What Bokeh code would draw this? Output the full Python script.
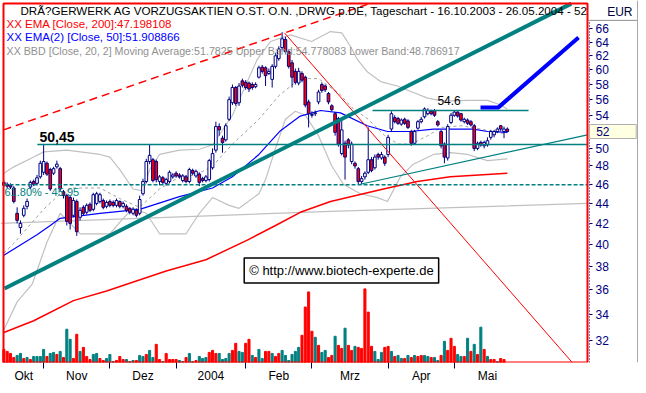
import numpy as np
from bokeh.plotting import figure
from bokeh.models import (Range1d, LinearScale, FixedTicker, Label, ColumnDataSource,
                          PrintfTickFormatter, LogAxis, BoxAnnotation, Span)
from bokeh.embed import file_html
from bokeh.resources import INLINE

# ---------------- data ----------------
opens = [46.2,46.0,45.9,45.6,43.0,41.6,42.8,43.7,45.7,46.3,46.1,46.8,47.3,48.3,47.6,47.2,47.9,47.7,45.2,44.8,
         44.6,42.8,44.2,42.6,43.6,43.1,43.9,43.4,44.0,44.2,44.3,43.7,44.2,44.1,43.8,44.2,43.7,43.7,43.5,43.0,
         43.3,43.0,45.0,46.3,48.5,48.7,48.5,46.3,46.7,46.1,46.3,46.8,47.2,47.0,46.4,46.8,46.3,47.5,46.9,47.1,
         46.6,46.4,46.5,47.8,49.8,52.6,51.2,51.0,53.5,55.6,57.6,55.6,58.5,58.3,58.2,58.0,57.7,59.0,60.4,60.3,
         59.5,58.7,60.5,61.6,63.2,64.4,62.6,61.0,59.8,58.2,59.5,59.0,55.7,54.0,54.2,55.7,58.0,57.8,56.8,55.2,
         54.2,53.6,49.4,50.6,51.0,48.5,48.3,47.7,46.3,46.8,47.3,48.7,47.8,49.3,48.9,49.0,49.3,52.3,53.7,53.6,
         52.9,53.5,53.3,52.0,50.6,52.4,53.2,53.8,54.2,54.5,54.6,53.2,52.0,50.5,48.9,53.1,54.0,54.4,54.2,53.2,
         53.4,53.2,52.7,50.0,50.7,50.3,50.4,51.3,51.6,52.0,52.7,52.0,52.3]
closes = [45.9,45.8,45.7,44.2,42.3,42.0,43.5,44.2,46.2,46.0,46.7,48.3,48.5,47.1,45.5,47.7,48.2,45.5,44.8,42.2,
          42.0,44.3,41.2,43.3,43.0,43.8,43.3,44.9,45.0,44.9,43.6,44.1,43.8,43.8,44.3,43.7,44.0,43.3,43.1,43.4,
          42.8,44.4,46.3,48.5,49.2,46.4,46.5,46.8,46.2,46.5,47.3,47.0,46.9,46.8,46.9,46.3,47.6,47.2,47.4,46.2,
          46.4,46.8,48.6,49.4,52.6,52.2,50.7,52.7,56.0,57.6,55.5,57.8,57.9,57.6,57.4,57.6,58.0,60.3,59.8,59.2,
          59.8,60.5,62.0,63.0,64.5,62.6,60.5,59.0,58.3,59.8,58.6,55.3,54.2,54.1,54.3,57.0,57.2,57.3,55.7,54.7,
          51.9,50.5,52.2,49.0,50.4,50.5,48.0,46.3,46.6,47.2,48.7,47.5,49.0,49.0,49.3,48.3,51.3,54.2,53.2,53.0,
          53.4,53.0,52.5,50.6,52.0,53.2,53.5,54.8,54.6,54.2,54.0,52.8,50.3,49.0,52.6,54.0,54.4,53.9,53.4,53.5,
          53.0,52.8,50.0,50.6,50.4,50.7,50.9,52.0,52.0,52.3,52.3,52.3,52.0]
highs = [46.4,46.2,46.1,45.8,43.6,42.3,43.8,44.5,46.4,46.5,47.0,48.6,50.45,48.5,47.8,47.9,48.6,47.9,45.4,45.0,
         44.8,44.6,44.4,43.6,43.8,44.0,44.1,45.1,45.2,45.1,44.5,44.3,44.4,44.3,44.5,44.3,44.2,43.9,43.6,43.6,
         43.5,44.8,46.6,48.8,50.45,48.9,48.7,47.0,46.9,46.7,47.5,47.2,47.4,47.2,47.1,47.0,47.8,47.7,47.6,47.3,
         46.8,47.0,48.8,50.0,53.2,53.0,51.5,53.0,56.4,58.0,57.8,58.2,58.8,58.6,58.4,58.3,58.3,60.6,60.7,60.5,
         60.2,60.8,62.4,63.4,65.5,64.8,62.9,61.4,60.2,60.3,59.8,59.2,56.0,54.5,54.6,57.3,58.3,58.0,57.0,55.4,
         54.4,53.8,53.6,50.9,51.2,50.8,48.5,47.9,46.9,47.4,52.5,49.0,49.3,49.5,49.6,49.2,51.6,54.5,54.0,53.8,
         53.6,53.7,53.5,52.2,52.2,53.4,53.8,55.0,54.9,54.7,54.8,53.4,52.2,50.7,52.9,54.3,54.6,54.5,54.3,53.7,
         53.6,53.4,52.9,50.8,50.9,50.9,51.3,52.2,52.2,52.5,52.8,52.6,52.5]
lows = [45.7,45.6,45.5,44.0,42.0,41.0,42.6,43.4,45.5,45.8,45.9,46.6,47.0,46.9,45.3,47.0,47.7,45.3,44.5,41.8,
        41.4,42.6,40.8,42.3,42.8,42.9,43.1,43.2,43.8,44.0,43.4,43.5,43.6,43.6,43.6,43.5,43.5,43.1,42.9,42.8,
        42.6,42.8,44.8,46.1,48.2,46.2,46.2,45.9,46.0,45.9,46.1,46.6,46.7,46.6,46.2,46.1,46.1,47.0,46.7,45.8,
        46.2,46.2,46.3,47.6,49.5,51.5,49.5,50.8,53.3,55.3,55.2,55.2,57.6,57.3,57.0,57.3,57.5,58.8,59.5,57.8,
        59.3,57.6,60.2,61.3,62.8,62.3,60.2,57.6,58.0,57.9,58.3,55.0,52.5,53.7,53.9,55.4,56.9,57.0,55.4,54.5,
        51.5,50.2,49.2,46.5,50.0,48.2,47.7,46.0,46.0,46.5,47.1,47.3,47.6,48.7,48.7,48.0,49.0,52.0,53.0,52.8,
        52.7,52.8,52.3,50.3,50.4,52.2,53.0,53.6,54.0,54.0,53.8,52.6,50.0,48.3,48.6,52.9,53.8,53.7,53.2,53.0,
        52.8,52.6,49.7,49.8,50.2,50.0,50.2,51.0,51.3,51.8,52.0,51.2,51.9]
volume = [13,11,9,5,7,9,4,5,3,6,6,6,13,6,9,10,8,11,5,33,23,4,28,11,15,6,3,8,9,4,2,4,8,1,2,6,3,3,1,2,
          2,7,6,8,12,5,18,3,1,9,3,3,3,2,1,5,9,1,2,6,4,5,10,12,9,9,3,4,9,12,19,11,10,19,23,7,5,13,4,11,
          11,9,6,9,12,7,2,8,11,15,27,55,70,31,25,17,10,12,5,7,26,17,14,34,17,12,16,15,14,73,50,16,11,3,10,15,16,11,6,7,
          4,4,7,5,7,6,7,7,6,5,5,2,7,21,12,24,16,8,6,6,24,11,18,8,35,13,6,3,3,1,4,3,3]
vol_dir = list("ddddu udud uuuud uududuudduddduuddu uudddu uudu udu uddud dddu uduu duuudd duuuuddu uddudu uddudd uuuuuudd ddudu uddudd uddu ddddduuu dduduu dududdu uduudu ddduu dudud ududdudd".replace(" ", ""))

ema200_i = [0, 9, 21, 31, 49, 61, 73.5, 82, 89.5, 98.6, 114.6, 124.8, 134.8, 152]
ema200_v = [32.6, 33.5, 35.1, 35.9, 37.6, 38.6, 40.4, 41.8, 43.1, 44.2, 45.5, 46.3, 46.8, 47.2]
ema50_i = [0, 10, 14, 17, 29, 41, 53, 63, 69, 77, 83.5, 89.5, 95.6, 101.6, 109.7, 115.8, 122.7, 129.7, 141.7, 146, 152]
ema50_v = [39.0, 40.9, 41.8, 42.5, 43.0, 43.4, 44.7, 45.6, 46.8, 49.3, 52.1, 53.9, 54.6, 54.3, 52.7, 52.0, 52.0, 52.3, 52.3, 52.0, 51.9]
bb_up_i = [0, 3, 9, 12, 19, 29, 32, 35, 39, 42, 44, 47, 53, 59, 63, 69, 73.5, 76.5, 80.5, 86.5, 92.9, 98.6, 102,
           104.6, 106.7, 109.8, 113.7, 118.8, 122.7, 127.9, 132.7, 140, 146, 150, 152]
bb_up_v = [47.2, 47.9, 49.0, 49.6, 49.8, 49.3, 49.0, 47.6, 45.5, 45.3, 47.6, 49.3, 49.8, 49.9, 50.4, 54.0, 58.4, 61.5,
           64.1, 65.1, 64.1, 65.6, 65.4, 63.4, 61.5, 59.7, 58.4, 57.8, 57.1, 56.2, 55.8, 55.9, 55.9, 55.3, 54.8]
bb_mid_i = [0, 3, 8, 12, 17, 21, 29, 35, 41, 47, 53, 58, 63, 69, 77, 83, 88, 92, 95, 98, 101, 105, 110, 115, 119,
            123, 128, 132, 138, 144, 150, 152]
bb_mid_v = [39.2, 40.1, 41.9, 43.4, 45.0, 45.6, 45.6, 44.5, 43.6, 45.5, 46.8, 47.0, 48.0, 50.5, 53.5, 56.5, 58.3,
            58.8, 58.8, 57.8, 56.9, 55.0, 53.5, 51.5, 50.5, 50.5, 51.5, 52.5, 52.7, 52.3, 51.8, 51.8]
bb_lo_i = [0, 4, 8.6, 13, 17, 20, 23, 32, 36, 39, 43, 47, 55, 59, 63, 68, 71, 77, 79, 82, 85, 88, 91, 95, 99,
           102.5, 107.6, 112.8, 115.8, 119.7, 123.6, 129.7, 134.8, 140, 146, 152]
bb_lo_v = [32.8, 35.0, 36.5, 40.2, 43.0, 42.0, 41.0, 41.0, 42.5, 43.5, 43.0, 41.0, 41.0, 43.0, 44.6, 43.8, 43.5,
           45.0, 46.5, 50.0, 53.5, 54.5, 54.0, 51.5, 48.0, 46.0, 45.0, 44.6, 44.2, 46.8, 48.2, 49.3, 49.5, 49.3,
           48.6, 48.8]
grey_line_i = [-1, 98.6, 176.2]
grey_line_v = [42.0, 43.2, 44.0]

# drawn trend lines (index, price)
chan_i, chan_v = [-0.1, 110.4], [52.2, 70.0]          # red dashed channel
trend_i, trend_v = [0.2, 171.3], [36.1, 70.0]         # thick teal trend line
fall_i, fall_v = [84.7, 171.6], [65.4, 30.4]          # thin red falling line
supp_i, supp_v = [107.6, 176.2], [46.0, 51.6]         # thin teal support
res1_i, res1_v = [10.1, 176.2], [50.45, 50.45]        # 50,45 line
res2_i, res2_v = [111.3, 158.4], [54.6, 54.6]         # 54.6 line
fib_i, fib_v = [-0.1, 176.2], [45.95, 45.95]          # 61.80% line
arrow_i, arrow_v = [143.9, 149.3, 173.5], [55.0, 55.0, 64.7]

y_ticks = list(range(32, 67, 2))
last_price = 52
month_starts = [12, 32, 52, 73, 93, 116, 136]
month_label_pos = [6, 22, 42, 62.5, 83, 104.5, 126, 146]
month_names = ["Okt", "Nov", "Dez", "2004", "Feb", "Mrz", "Apr", "Mai"]

# ---------------- geometry ----------------
W, H = 638, 385
X0, X1 = -0.115, 176.2          # chart area (inside the red frame)
Y0, Y1 = 30.4, 70.02
CX0, CX1, CY0, CY1 = 3, 587, 3, 364   # canvas pixels of the chart area
SX = (X1 - X0) / (CX1 - CX0)
LY = np.log(Y1 / Y0) / (CY1 - CY0)
XR0, XR1 = X0 - CX0 * SX, X1 + (W - CX1) * SX
YR1 = float(Y1 * np.exp(CY0 * LY))

def ix(xpx):          # reference-picture pixel -> bar index
    return (xpx - 3.38) / 3.313

def py(ypx):          # reference-picture pixel -> price
    return 66.0 * np.exp(-(ypx - 29.0) / 440.0)

def dx(xp):           # canvas pixel -> bar index
    return X0 + (xp - CX0) * SX

def dy(yp):           # canvas pixel -> price
    return float(np.exp(np.log(Y1) - (yp - CY0) * LY))

FONT = "Liberation Sans"
TEAL = "#008080"
NAVY = "#000080"

p = figure(width=W, height=H, output_backend="svg", toolbar_location=None,
           x_range=Range1d(XR0, XR1), y_range=Range1d(Y0, YR1),
           y_axis_type="log", y_axis_location=None,
           min_border_left=0, min_border_top=0, min_border_right=0, min_border_bottom=H - CY1,
           background_fill_color="white", border_fill_color="white")
p.extra_y_ranges = {"vol": Range1d(0, 359)}
p.extra_y_scales = {"vol": LinearScale()}
p.xgrid.grid_line_color = None
p.ygrid.grid_line_color = None
p.outline_line_color = None

# price axis, drawn just right of the chart frame
ya = LogAxis(fixed_location=dx(589), bounds=(Y0, dy(22)))
ya.ticker = FixedTicker(ticks=y_ticks, minor_ticks=[])
ya.formatter = PrintfTickFormatter(format="%d")
ya.major_label_overrides = {float(last_price): ""}
ya.axis_line_color = NAVY
ya.axis_line_dash = "1 2"
ya.major_tick_out = 3
ya.major_tick_in = 0
ya.major_tick_line_color = NAVY
ya.minor_tick_line_color = None
ya.major_label_standoff = 3
ya.major_label_text_color = NAVY
ya.major_label_text_font = FONT
ya.major_label_text_font_size = "12px"
p.add_layout(ya, "right")

# x axis
xa = p.xaxis[0]
xa.ticker = FixedTicker(ticks=month_label_pos, minor_ticks=month_starts)
xa.major_label_overrides = {float(k): v for k, v in zip(month_label_pos, month_names)}
xa.axis_line_color = None
xa.major_tick_line_color = None
xa.major_tick_out = 0
xa.major_tick_in = 0
xa.minor_tick_out = 6
xa.minor_tick_in = 0
xa.minor_tick_line_color = "#000040"
xa.minor_tick_line_width = 1
xa.major_label_standoff = 0
xa.major_label_text_font = FONT
xa.major_label_text_font_size = "12px"
xa.major_label_text_color = "black"

n = len(closes)
idx = list(range(n))

# volume
vsrc = ColumnDataSource(dict(x=idx, top=volume[:n],
                             color=[TEAL if d == "u" else "#FF0000" for d in vol_dir[:n]]))
p.vbar(x="x", top="top", bottom=0, width=0.62, color="color", source=vsrc, y_range_name="vol")

# indicator lines
p.line(grey_line_i, grey_line_v, color="#C0C0C0", line_width=1.2)
p.line(bb_up_i, bb_up_v, color="#C0C0C0", line_width=1.2)
p.line(bb_lo_i, bb_lo_v, color="#C0C0C0", line_width=1.2)
p.line(bb_mid_i, bb_mid_v, color="#A0A0A0", line_width=1, line_dash="3 3")
p.line(ema200_i, ema200_v, color="#FF0000", line_width=1.5)
p.line(ema50_i, ema50_v, color="#0000FF", line_width=1.2)

# candles
body_top = [max(o, c) for o, c in zip(opens, closes)]
body_bot = [min(o, c) for o, c in zip(opens, closes)]
fill = ["white" if c >= o else "#FF0000" for o, c in zip(opens, closes)]
csrc = ColumnDataSource(dict(x=idx, hi=highs, lo=lows, top=body_top, bot=body_bot, fill=fill))
p.segment(x0="x", y0="lo", x1="x", y1="hi", color=NAVY, line_width=1, source=csrc)
p.vbar(x="x", top="top", bottom="bot", width=0.8, fill_color="fill", line_color=NAVY,
       line_width=1, source=csrc)

# drawn lines
p.line(chan_i, chan_v, color="#FF0000", line_width=1.5, line_dash="8 5")
p.line(fall_i, fall_v, color="#FF0000", line_width=1)
p.line(res1_i, res1_v, color=TEAL, line_width=1.5)
p.line(res2_i, res2_v, color=TEAL, line_width=1.5)
p.line(fib_i, fib_v, color=TEAL, line_width=1.5, line_dash="4 2")
p.line(supp_i, supp_v, color=TEAL, line_width=1.2)
p.line(trend_i, trend_v, color=TEAL, line_width=4)
p.line(arrow_i, arrow_v, color="#0000FF", line_width=4)

# red chart frame and right-panel rules
p.add_layout(BoxAnnotation(left=X0, right=X1, bottom=Y0, top=Y1, fill_alpha=0,
                           line_color="#FF0000", line_width=2, line_alpha=1))
p.add_layout(Span(location=dx(637), dimension="height", line_color="#A8A8A8", line_width=1))
p.line([dx(588), dx(637)], [dy(20), dy(20)], color="#909090", line_width=1)

# texts
def lab(x, y, text, color="black", size="11px", style="normal", align="left", **kw):
    p.add_layout(Label(x=x, y=y, text=text, text_color=color, text_font=FONT,
                       text_font_size=size, text_font_style=style, text_align=align,
                       text_baseline="middle", **kw))

lab(dx(20), dy(10), "DRÃ?GERWERK AG VORZUGSAKTIEN O.ST. O.N. ,DRWG p.DE, Tageschart - 16.10.2003 - 26.05.2004 - 52",
    size="11.6px")
lab(dx(6), dy(24), "XX EMA [Close, 200]:47.198108", color="#FF0000", size="11.5px")
lab(dx(6), dy(37), "XX EMA(2) [Close, 50]:51.908866", color="#0000FF", size="11.5px")
lab(dx(6), dy(51), "XX BBD [Close, 20, 2] Moving Average:51.7825 Upper Band:54.778083 Lower Band:48.786917",
    color="#909090", size="10.7px")
lab(ix(39), py(140), "50,45", size="14px", style="bold")
lab(ix(437), py(102), "54.6", size="12px")
lab(ix(4), py(196), "61.80% - 45.95", color=TEAL)
lab(ix(341), py(276), "\u00a9 http://www.biotech-experte.de", size="13px", align="center",
    background_fill_color="white", border_line_color="black", border_line_width=1.5, padding=5)

# highlighted last price and currency header
p.add_layout(Label(x=dx(589), y=last_price, text="\u00a0\u00a0" + str(last_price) + "\u00a0" * 8,
                   text_color=NAVY, text_font=FONT, text_font_size="12px",
                   text_baseline="middle", background_fill_color="#FFFFE1",
                   border_line_color="#B0B0B0"))
lab(dx(632), dy(12), "EUR", color="#000040", size="12px", align="right")

open("out.html", "w").write(file_html(p, INLINE))
